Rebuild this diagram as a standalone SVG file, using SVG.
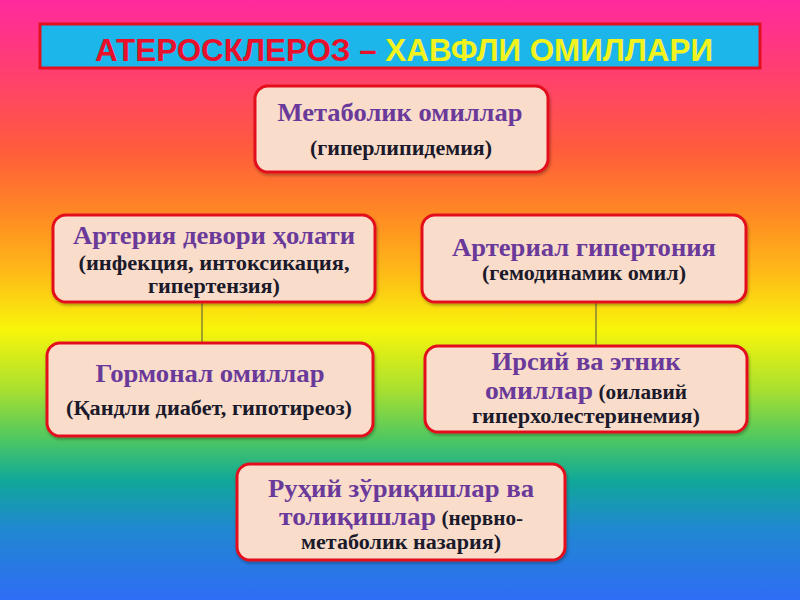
<svg xmlns="http://www.w3.org/2000/svg" width="800" height="600" viewBox="0 0 800 600">
<defs>
<linearGradient id="bg" x1="0" y1="0" x2="0" y2="1">
<stop offset="0" stop-color="#FF2A9E"/>
<stop offset="0.12" stop-color="#FF3F70"/>
<stop offset="0.25" stop-color="#FF5C3C"/>
<stop offset="0.35" stop-color="#FF8624"/>
<stop offset="0.45" stop-color="#FFB818"/>
<stop offset="0.55" stop-color="#F8F50A"/>
<stop offset="0.65" stop-color="#A8E030"/>
<stop offset="0.73" stop-color="#50C860"/>
<stop offset="0.80" stop-color="#10A898"/>
<stop offset="0.88" stop-color="#2088D0"/>
<stop offset="1" stop-color="#2F6CF5"/>
</linearGradient>
<filter id="sh" x="-5%" y="-5%" width="110%" height="115%">
<feDropShadow dx="1" dy="2" stdDeviation="1.5" flood-color="#000" flood-opacity="0.3"/>
</filter>
</defs>
<style>
.box{fill:#FADCCB;stroke:#E4101E;stroke-width:3}
.t{font-family:"Liberation Serif","DejaVu Serif",serif;font-weight:bold;font-size:26px;fill:#6A3A9A;text-anchor:middle}
.s{font-family:"Liberation Serif","DejaVu Serif",serif;font-weight:bold;font-size:20px;fill:#1A1A2A;text-anchor:middle}
.ti{font-family:"Liberation Sans Narrow","Liberation Sans","DejaVu Sans",sans-serif;font-weight:bold;font-size:32px}
.c{stroke:#6A6A40;stroke-width:1.2;fill:none}
</style>
<rect x="0" y="0" width="800" height="600" fill="url(#bg)"/>

<g id="title">
<rect x="40" y="24" width="720" height="44" fill="#1DB6EA" stroke="#E4101E" stroke-width="3"/>
<text class="ti" x="95" y="61" textLength="618" lengthAdjust="spacingAndGlyphs"><tspan fill="#E8102A">АТЕРОСКЛЕРОЗ – </tspan><tspan fill="#F2F21E">ХАВФЛИ ОМИЛЛАРИ</tspan></text>
</g>

<g id="connectors">
<line class="c" x1="202" y1="302" x2="202" y2="343"/>
<line class="c" x1="596" y1="302" x2="596" y2="346"/>
</g>

<g id="node-metabolic">
<rect class="box" x="255" y="86" width="293" height="86" rx="13" filter="url(#sh)"/>
<text class="t" x="400" y="121" textLength="245" lengthAdjust="spacingAndGlyphs">Метаболик омиллар</text>
<text class="s" x="401" y="155" textLength="182" lengthAdjust="spacingAndGlyphs">(гиперлипидемия)</text>
</g>

<g id="node-artery-wall">
<rect class="box" x="53" y="215" width="322" height="87" rx="13" filter="url(#sh)"/>
<text class="t" x="214" y="244" textLength="282" lengthAdjust="spacingAndGlyphs">Артерия девори ҳолати</text>
<text class="s" x="214" y="270" textLength="271" lengthAdjust="spacingAndGlyphs">(инфекция, интоксикация,</text>
<text class="s" x="214" y="293" textLength="132" lengthAdjust="spacingAndGlyphs">гипертензия)</text>
</g>

<g id="node-hypertension">
<rect class="box" x="422" y="215" width="324" height="87" rx="13" filter="url(#sh)"/>
<text class="t" x="584" y="256" textLength="264" lengthAdjust="spacingAndGlyphs">Артериал гипертония</text>
<text class="s" x="584" y="280" textLength="204" lengthAdjust="spacingAndGlyphs">(гемодинамик омил)</text>
</g>

<g id="node-hormonal">
<rect class="box" x="47" y="343" width="326" height="93" rx="13" filter="url(#sh)"/>
<text class="t" x="210" y="382" textLength="229" lengthAdjust="spacingAndGlyphs">Гормонал омиллар</text>
<text class="s" x="209" y="415" textLength="286" lengthAdjust="spacingAndGlyphs">(Қандли диабет, гипотиреоз)</text>
</g>

<g id="node-hereditary">
<rect class="box" x="425" y="346" width="322" height="86" rx="13" filter="url(#sh)"/>
<text class="t" x="586" y="370" textLength="189" lengthAdjust="spacingAndGlyphs">Ирсий ва этник</text>
<text x="485" y="399" textLength="202" lengthAdjust="spacingAndGlyphs" style="font-family:'Liberation Serif','DejaVu Serif',serif;font-weight:bold"><tspan font-size="26" fill="#6A3A9A">омиллар</tspan><tspan font-size="20" fill="#1A1A2A"> (оилавий</tspan></text>
<text class="s" x="586" y="423" textLength="228" lengthAdjust="spacingAndGlyphs">гиперхолестеринемия)</text>
</g>

<g id="node-psych">
<rect class="box" x="237" y="464" width="328" height="96" rx="13" filter="url(#sh)"/>
<text class="t" x="401" y="497" textLength="266" lengthAdjust="spacingAndGlyphs">Руҳий зўриқишлар ва</text>
<text x="279" y="525" textLength="244" lengthAdjust="spacingAndGlyphs" style="font-family:'Liberation Serif','DejaVu Serif',serif;font-weight:bold"><tspan font-size="26" fill="#6A3A9A">толиқишлар</tspan><tspan font-size="20" fill="#1A1A2A"> (нервно-</tspan></text>
<text class="s" x="401" y="549" textLength="200" lengthAdjust="spacingAndGlyphs">метаболик назария)</text>
</g>
</svg>
